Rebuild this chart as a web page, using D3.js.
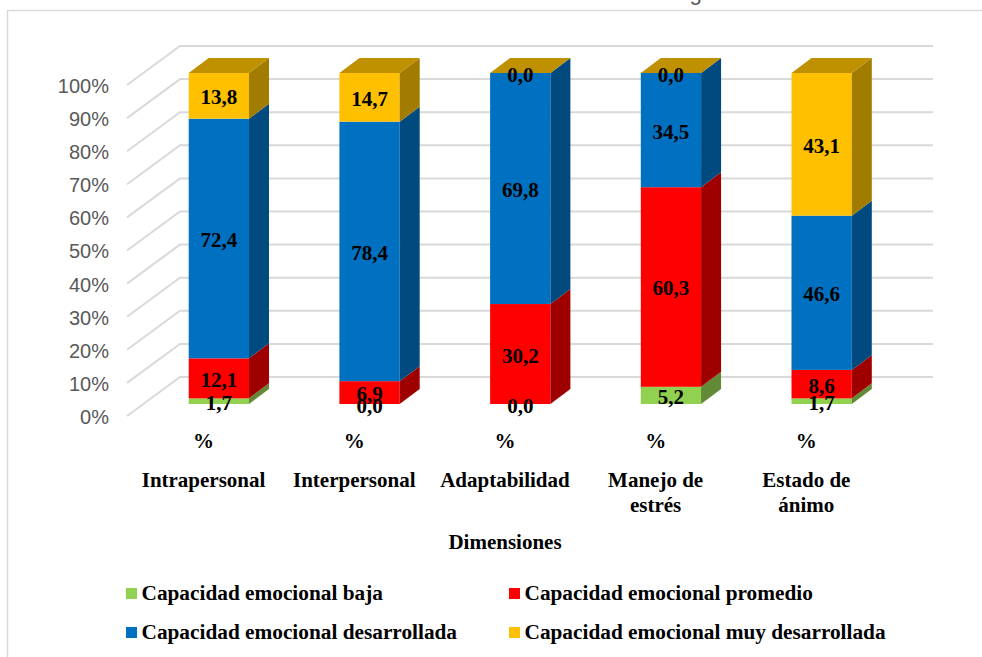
<!DOCTYPE html>
<html lang="es">
<head>
<meta charset="utf-8">
<title>Capacidad emocional por dimensiones</title>
<script src="https://cdn.jsdelivr.net/npm/d3@7"></script>
<style>
  html, body { margin: 0; padding: 0; background: #fff; overflow: hidden; }
  svg { display: block; }
  .serif { font-family: "Liberation Serif", "Times New Roman", serif; font-weight: bold; fill: #000; }
  .axis text { font-family: "Liberation Sans", Arial, sans-serif; font-size: 20px; fill: #595959; }
</style>
</head>
<body>
<svg id="chart" width="982" height="657"></svg>
<script>
// Datos: porcentaje de cada nivel de capacidad emocional por dimensión
const dimensions = ["Intrapersonal", "Interpersonal", "Adaptabilidad", "Manejo de estrés", "Estado de ánimo"];
const dimensionLines = [["Intrapersonal"], ["Interpersonal"], ["Adaptabilidad"], ["Manejo de", "estrés"], ["Estado de", "ánimo"]];
const baja = [1.7, 0.0, 0.0, 5.2, 1.7];
const promedio = [12.1, 6.9, 30.2, 60.3, 8.6];
const desarrollada = [72.4, 78.4, 69.8, 34.5, 46.6];
const muyDesarrollada = [13.8, 14.7, 0.0, 0.0, 43.1];
const seriesKeys = ["baja", "promedio", "desarrollada", "muyDesarrollada"];
const seriesNames = ["Capacidad emocional baja", "Capacidad emocional promedio", "Capacidad emocional desarrollada", "Capacidad emocional muy desarrollada"];
const frontColors = ["#92d050", "#ff0000", "#0070c0", "#ffc000"];
const sideColors = ["#628a36", "#9e0000", "#004a80", "#a27c00"];
const capColor = "#bf9000";
const yTicks = [0, 10, 20, 30, 40, 50, 60, 70, 80, 90, 100];
const titleText = "Resultados de las dimensiones de la variable de Inteligencia Emocional";
const axisTitle = "Dimensiones";
const unitLabel = "%";

// Escalas: la banda y el valor se leen en el plano frontal de las barras
const svg = d3.select("#chart");
const x = d3.scaleBand().domain(dimensions).range([143.5, 897]).paddingInner(0.6).paddingOuter(0.3);
const y = d3.scaleLinear().domain([0, 100]).range([404, 73]);

// Proyección oblicua de la gráfica 3D
const barDepth = { dx: 20, dy: -15 };
const floorFrontX = 127, wallX = 180, wallRight = 933;
const floorDrop = 12, wallRise = 27;
const labelShift = -15.3;

// Marco del área de la gráfica, abierto por la derecha y por abajo
svg.append("path")
  .attr("d", "M7.5,657V10.5H982")
  .attr("fill", "none").attr("stroke", "#d9d9d9").attr("stroke-width", 1.5);

// Título del gráfico, recortado por el borde superior
svg.append("text")
  .attr("x", 511).attr("y", 0.2)
  .attr("text-anchor", "middle")
  .attr("font-family", "Liberation Sans, Arial, sans-serif")
  .attr("font-size", 22.4)
  .attr("fill", "#595959")
  .text(titleText);

// Pared del fondo y diagonales del suelo
const grid = svg.append("g").attr("fill", "none").attr("stroke", "#d9d9d9").attr("stroke-width", 2);
grid.selectAll("path").data(yTicks).join("path")
  .attr("d", d => `M${floorFrontX},${y(d) + floorDrop}L${wallX},${y(d) - wallRise}H${wallRight}`);

// Eje de valores
svg.append("g")
  .attr("class", "axis")
  .attr("transform", `translate(113,${floorDrop + 1})`)
  .call(d3.axisLeft(y).tickValues(yTicks).tickSize(0).tickPadding(4).tickFormat(d => d + "%"))
  .call(g => g.select(".domain").remove());

// Pilas de cada dimensión
const rows = dimensions.map((name, i) => ({
  name, baja: baja[i], promedio: promedio[i], desarrollada: desarrollada[i], muyDesarrollada: muyDesarrollada[i]
}));
const stacked = d3.stack().keys(seriesKeys)(rows);
const bw = x.bandwidth();

const bars = svg.append("g");
rows.forEach((row, i) => {
  const x0 = x(row.name), x1 = x0 + bw;
  const g = bars.append("g");
  stacked.forEach((layer, s) => {
    const top = y(layer[i][1]), bottom = y(layer[i][0]);
    g.append("rect")
      .attr("x", x0).attr("y", top)
      .attr("width", bw).attr("height", bottom - top)
      .attr("fill", frontColors[s]);
    g.append("path")
      .attr("d", `M${x1},${bottom}L${x1 + barDepth.dx},${bottom + barDepth.dy}V${top + barDepth.dy}L${x1},${top}Z`)
      .attr("fill", sideColors[s]);
  });
  const capY = y(stacked[stacked.length - 1][i][1]);
  g.append("path")
    .attr("d", `M${x0},${capY}L${x0 + barDepth.dx},${capY + barDepth.dy}H${x1 + barDepth.dx}L${x1},${capY}Z`)
    .attr("fill", capColor);
});

// Etiquetas de valor sobre cada segmento
const valueLabels = svg.append("g").attr("class", "serif").attr("font-size", 21).attr("text-anchor", "middle");
stacked.forEach(layer => {
  layer.forEach((seg, i) => {
    valueLabels.append("text")
      .attr("x", x(rows[i].name) + bw / 2)
      .attr("y", y((seg[0] + seg[1]) / 2) + 8.5)
      .text((seg[1] - seg[0]).toFixed(1).replace(".", ","));
  });
});

// Rótulos de categoría con el símbolo de porcentaje encima
const catLabels = svg.append("g").attr("class", "serif").attr("font-size", 21).attr("text-anchor", "middle");
dimensions.forEach((name, i) => {
  const cx = x(name) + bw / 2 + labelShift;
  catLabels.append("text").attr("x", cx).attr("y", 447.5).text(unitLabel);
  const t = catLabels.append("text").attr("y", 486.5);
  dimensionLines[i].forEach((line, k) => {
    t.append("tspan").attr("x", cx).attr("dy", k ? 25 : 0).text(line);
  });
});

// Título del eje horizontal
svg.append("text").attr("class", "serif")
  .attr("x", 505).attr("y", 548.5)
  .attr("font-size", 21).attr("text-anchor", "middle")
  .text(axisTitle);

// Leyenda en dos columnas
const legendCols = [126, 509], legendRows = [588, 627];
const legend = svg.append("g");
seriesNames.forEach((name, i) => {
  const lx = legendCols[i % 2], ly = legendRows[Math.floor(i / 2)];
  legend.append("rect").attr("x", lx).attr("y", ly).attr("width", 11).attr("height", 11).attr("fill", frontColors[i]);
  legend.append("text").attr("class", "serif")
    .attr("x", lx + 15.5).attr("y", ly + 11.5)
    .attr("font-size", 21.3)
    .text(name);
});
</script>
</body>
</html>
